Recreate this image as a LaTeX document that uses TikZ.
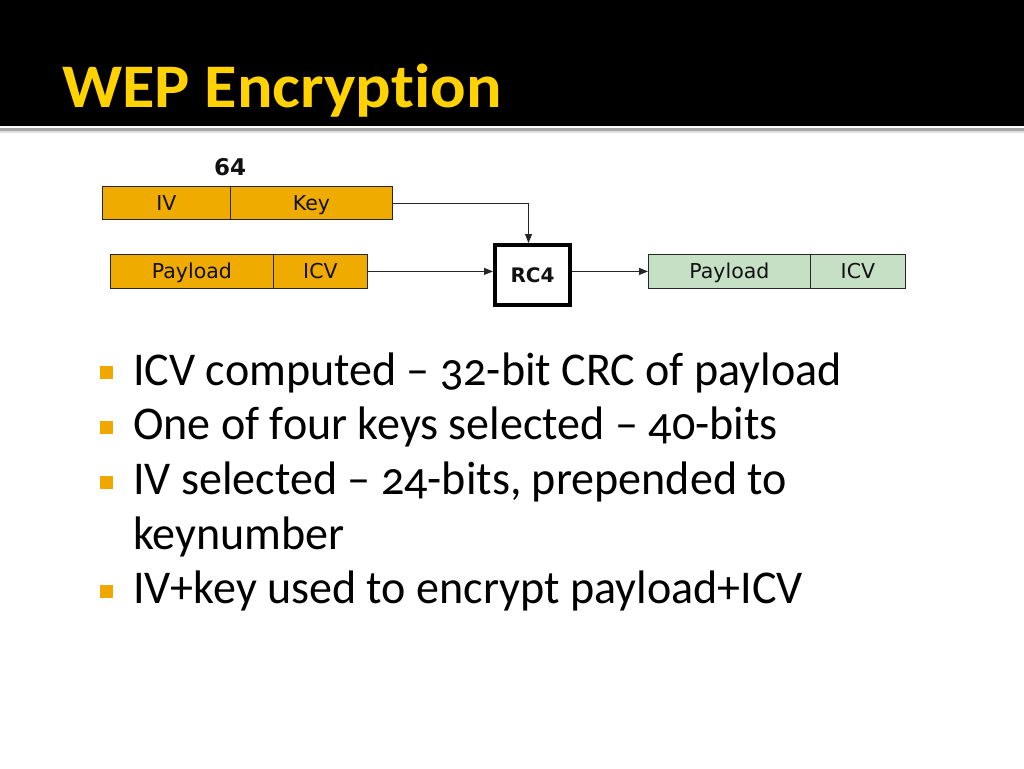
\documentclass[tikz,border=0pt]{standalone}
\usepackage{fontspec}
\setmainfont{Carlito}[Numbers=OldStyle, FakeStretch=0.98]
\newfontfamily\titlefont{Carlito}[Ligatures=NoCommon, FakeStretch=1.07]
\newfontfamily\diagfont{DejaVu Sans}
\usetikzlibrary{arrows.meta}
\definecolor{titleyellow}{HTML}{FFD200}
\definecolor{boxorange}{HTML}{F0AB00}
\definecolor{boxgreen}{HTML}{C6E0C6}
\definecolor{bulletorange}{HTML}{F0A800}
\definecolor{textdark}{HTML}{111111}
\begin{document}
\begin{tikzpicture}[x=1pt,y=-1pt,
  cell/.style={draw=black!85, line width=0.8pt, inner sep=0pt, minimum height=33pt, anchor=north west,
    text height=14.6pt, text depth=0pt,
    font=\diagfont\fontsize{20.5}{24}\selectfont, text=textdark},
  orangecell/.style={cell, fill=boxorange},
  greencell/.style={cell, fill=boxgreen},
  arr/.style={draw=black!85, line width=0.8pt, -{Triangle[length=9pt,width=7pt]}},
  bullettext/.style={anchor=base west, inner sep=0pt, font=\fontsize{47}{56}\selectfont, text=black},
  bulletsq/.style={fill=bulletorange, minimum size=13pt, inner sep=0pt}
]
\useasboundingbox (0,0) rectangle (1024,768);
\fill[white] (0,0) rectangle (1024,768);
% title band
\fill[black] (0,0) rectangle (1024,125.5);
\fill[black!35] (0,128) rectangle (1024,131);
\fill[black!12] (0,131) rectangle (1024,133);
\node[anchor=base west, inner sep=0pt, text=titleyellow, font=\titlefont\bfseries\fontsize{62}{70}\selectfont] (title) at (62,107) {WEP Encryption};

% diagram
\node[font=\diagfont\bfseries\fontsize{23}{26}\selectfont, text=textdark, inner sep=0pt] (len) at (230,167) {64};
\node[orangecell, minimum width=128pt] (iv) at (102,186) {IV};
\node[orangecell, minimum width=162pt] (key) at (230,186) {Key};
\node[orangecell, minimum width=163pt, minimum height=34pt] (pay) at (110,254) {Payload};
\node[orangecell, minimum width=94pt, minimum height=34pt] (icv) at (273,254) {ICV};
\node[draw=black, line width=4pt, fill=white, minimum width=75pt, minimum height=60pt, inner sep=0pt,
  text height=14.6pt, text depth=0pt,
  font=\diagfont\bfseries\fontsize{20}{24}\selectfont, text=textdark] (rc4) at (532.5,275) {RC4};
\node[greencell, minimum width=162pt, minimum height=34pt] (gpay) at (648,254) {Payload};
\node[greencell, minimum width=95pt, minimum height=34pt] (gicv) at (810,254) {ICV};

\coordinate (kin) at ([xshift=-4pt]rc4.north);
\draw[arr] (key.east) -| (kin);
\draw[arr] (icv.east) -- (icv.east -| rc4.west);
\draw[arr] (rc4.east |- gpay.west) -- (gpay.west);

% bullets
\node[bulletsq] (b1) at (106,372.5) {};
\node[bullettext] (t1) at (133,385) {ICV computed – 32-bit CRC of payload};
\node[bulletsq] (b2) at (106,427) {};
\node[bullettext] (t2) at (133,439.5) {One of four keys selected – 40-bits};
\node[bulletsq] (b3) at (106,482) {};
\node[bullettext] (t3) at (133,494.5) {IV selected – 24-bits, prepended to};
\node[bullettext] (t3b) at (133,549) {keynumber};
\node[bulletsq] (b4) at (106,591) {};
\node[bullettext] (t4) at (133,603.5) {IV+key used to encrypt payload+ICV};
\end{tikzpicture}
\end{document}
